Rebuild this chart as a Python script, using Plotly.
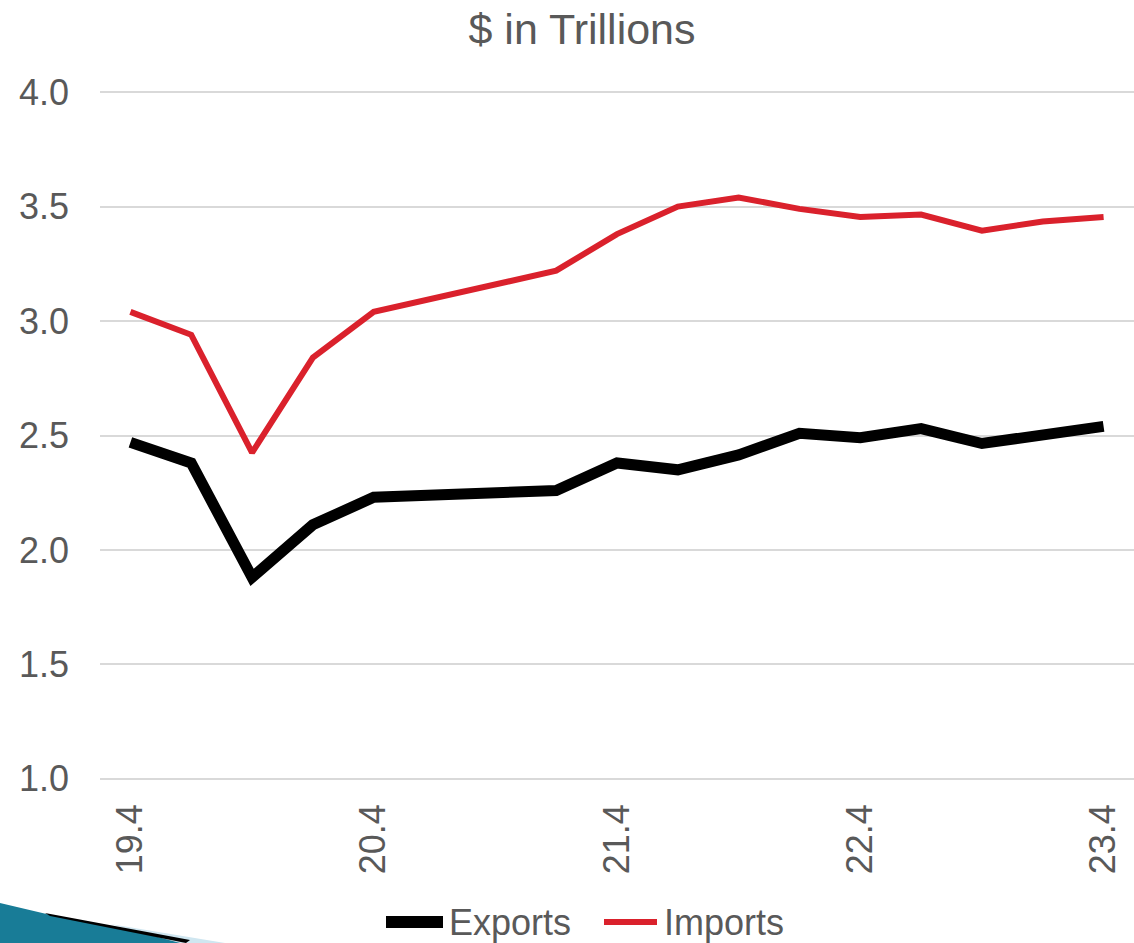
import plotly.graph_objects as go

# Quarterly trade values, $ trillions
quarters = ["19.4", "20.1", "20.2", "20.3", "20.4", "21.1", "21.2", "21.3", "21.4",
            "22.1", "22.2", "22.3", "22.4", "23.1", "23.2", "23.3", "23.4"]
exports = [2.47, 2.38, 1.88, 2.11, 2.23, 2.24, 2.25, 2.26, 2.38,
           2.35, 2.415, 2.51, 2.49, 2.53, 2.465, 2.50, 2.54]
imports = [3.04, 2.94, 2.425, 2.84, 3.04, 3.10, 3.16, 3.22, 3.38,
           3.50, 3.54, 3.49, 3.455, 3.465, 3.395, 3.435, 3.455]
tick_labels = ["19.4", "20.4", "21.4", "22.4", "23.4"]
y_ticks = [1.0, 1.5, 2.0, 2.5, 3.0, 3.5, 4.0]

FONT = "Liberation Sans, Arial, sans-serif"
TEXT = "#595959"
RED = "#DA212C"

W, H = 1134, 943
ML, MR, MT, MB = 100, 0, 91, 163
PW, PH = W - ML - MR, H - MT - MB
PAD = 0.005  # keeps the 1.0 and 4.0 gridlines inside the plot area


def px(x):
    return (x - ML) / PW


def py(y):
    return (H - MB - y) / PH


fig = go.Figure()
fig.add_trace(go.Scatter(x=quarters, y=exports, mode="lines", name="Exports",
                         line=dict(color="black", width=11), showlegend=False))
fig.add_trace(go.Scatter(x=quarters, y=imports, mode="lines", name="Imports",
                         line=dict(color=RED, width=6), showlegend=False))

shapes = []
annotations = []

# legend entries
for x0, x1, color, width, label, tx in [
    (386, 443, "black", 12, "Exports", 447),
    (604, 657, RED, 6, "Imports", 662),
]:
    shapes.append(dict(type="line", xref="paper", yref="paper",
                       x0=px(x0), x1=px(x1), y0=py(922), y1=py(922),
                       line=dict(color=color, width=width)))
    annotations.append(dict(text=label, xref="paper", yref="paper",
                            x=px(tx), y=py(922), xanchor="left", yanchor="middle",
                            showarrow=False, font=dict(family=FONT, size=36, color=TEXT)))

# slide decoration in the lower-left corner
shapes.append(dict(type="path", xref="paper", yref="paper", layer="above",
                   path="M {} {} L {} {} L {} {} L {} {} L {} {} Z".format(
                       px(0), py(903), px(55), py(916), px(190), py(943),
                       px(0), py(943), px(0), py(903)),
                   fillcolor="#187C97", line=dict(width=0)))
shapes.append(dict(type="path", xref="paper", yref="paper", layer="above",
                   path="M {} {} L {} {} L {} {} Z".format(
                       px(110), py(924), px(225), py(943), px(180), py(943)),
                   fillcolor="#CFE6F0", line=dict(width=0)))
shapes.append(dict(type="path", xref="paper", yref="paper", layer="above",
                   path="M {} {} L {} {} L {} {} L {} {} Z".format(
                       px(45), py(913), px(190), py(940), px(186), py(943), px(50), py(916)),
                   fillcolor="black", line=dict(width=0)))

fig.update_layout(
    width=W, height=H,
    margin=dict(l=ML, r=MR, t=MT, b=MB),
    paper_bgcolor="white", plot_bgcolor="white",
    title=dict(text="$ in Trillions", x=582 / W, xanchor="center",
               y=1 - 29 / H, yanchor="middle",
               font=dict(family=FONT, size=43, color=TEXT)),
    xaxis=dict(type="category", categoryorder="array", categoryarray=quarters,
               range=[-0.5, len(quarters) - 0.5],
               tickmode="array", tickvals=tick_labels, ticktext=tick_labels,
               tickangle=-90, showgrid=False, zeroline=False, showline=False,
               ticks="", ticklabelstandoff=16,
               tickfont=dict(family=FONT, size=36, color=TEXT)),
    yaxis=dict(range=[1.0 - PAD, 4.0 + PAD], tickmode="array", tickvals=y_ticks,
               ticktext=[f"{v:.1f}" for v in y_ticks],
               showgrid=True, gridcolor="#D9D9D9", gridwidth=2,
               zeroline=False, showline=False, ticks="", ticklabelstandoff=30,
               tickfont=dict(family=FONT, size=36, color=TEXT)),
    shapes=shapes,
    annotations=annotations,
    showlegend=False,
)

fig.write_html("out.html")
